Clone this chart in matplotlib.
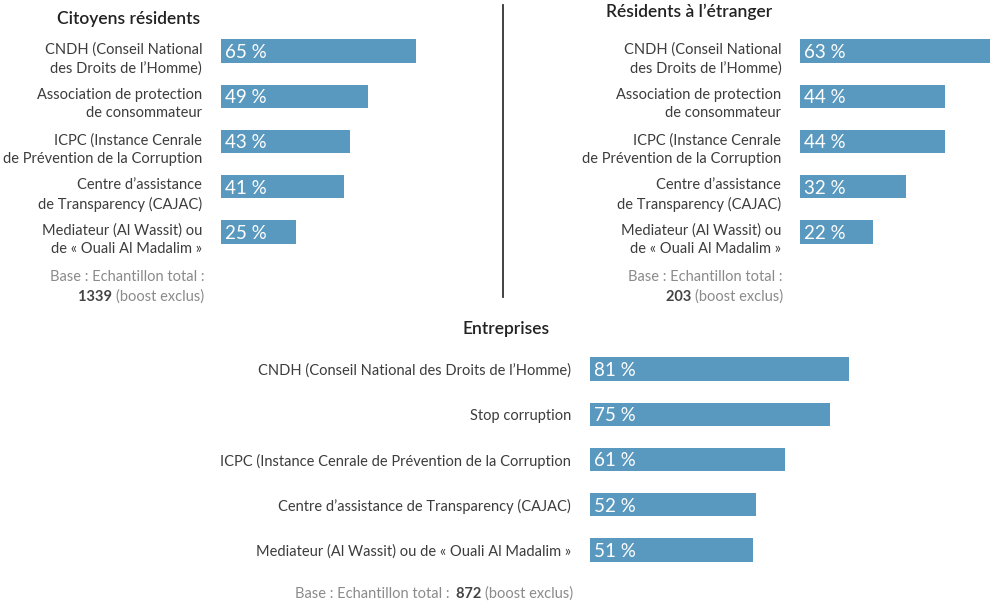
import numpy as np
import matplotlib
matplotlib.use("Agg")
import matplotlib.pyplot as plt

plt.rcParams['font.family'] = ['Lato', 'DejaVu Sans']

# data
res_labels = ["CNDH (Conseil National\ndes Droits de l\u2019Homme)",
              "Association de protection\nde consommateur",
              "ICPC (Instance Cenrale\nde Pr\u00e9vention de la Corruption",
              "Centre d\u2019assistance\nde Transparency (CAJAC)",
              "Mediateur (Al Wassit) ou\nde \u00ab Ouali Al Madalim \u00bb"]
res_values = [65, 49, 43, 41, 25]

etr_labels = res_labels
etr_values = [63, 44, 44, 32, 22]

ent_labels = ["CNDH (Conseil National des Droits de l\u2019Homme)",
              "Stop corruption",
              "ICPC (Instance Cenrale de Pr\u00e9vention de la Corruption",
              "Centre d\u2019assistance de Transparency (CAJAC)",
              "Mediateur (Al Wassit) ou de \u00ab Ouali Al Madalim \u00bb"]
ent_values = [81, 75, 61, 52, 51]

titles = ["Citoyens r\u00e9sidents", "R\u00e9sidents \u00e0 l\u2019\u00e9tranger", "Entreprises"]
bases = ["1339", "203", "872"]

BAR = '#5a99bf'
TXT = '#3c3c3c'
GREY = '#8a8a8a'
W, H = 990, 602

fig = plt.figure(figsize=(9.9, 6.02), dpi=100)


def px_axes(x0, top, width, height):
    return fig.add_axes([x0 / W, 1 - (top + height) / H, width / W, height / H])


def panel(ax, labels, values, label_shift):
    y = np.arange(len(values))
    ax.barh(y, values, height=0.51, color=BAR)
    ax.set_xlim(0, 100)
    ax.set_ylim(len(values) - 0.5, -0.5)
    for i, v in enumerate(values):
        ax.text(1.3, i + 0.03, f"{v} %", color='white', fontsize=13.5,
                va='center', ha='left')
    ax.set_yticks(y + label_shift)
    ax.set_yticklabels(labels, fontsize=10.5, color=TXT, linespacing=1.35)
    ax.tick_params(axis='y', length=0, pad=13.5)
    ax.set_xticks([])
    for s in ax.spines.values():
        s.set_visible(False)
    ax.patch.set_alpha(0)


# top left (3.0 px per %)
ax1 = px_axes(221, 28.4, 300, 226.2)
panel(ax1, res_labels, res_values, 0.1)
# top right (3.3 px per %)
ax2 = px_axes(800, 28.4, 330, 226.2)
panel(ax2, etr_labels, etr_values, 0.1)
# bottom (3.2 px per %)
ax3 = px_axes(590, 346.4, 320, 226.2)
panel(ax3, ent_labels, ent_values, 0.0)

# titles
fig.text(200 / W, 1 - 19 / H, titles[0], fontsize=12.5, fontweight='semibold',
         color='#222222', ha='right', va='center')
fig.text(689 / W, 1 - 12 / H, titles[1], fontsize=12.5, fontweight='semibold',
         color='#222222', ha='center', va='center')
fig.text(506 / W, 1 - 329 / H, titles[2], fontsize=12.5, fontweight='semibold',
         color='#222222', ha='center', va='center')

# divider
fig.add_artist(plt.Line2D([503 / W, 503 / W], [1 - 5 / H, 1 - 297 / H],
                          color='#333333', lw=1.3))


def two_line_base(ax, xr, y1, y2, num):
    fig.text(xr / W, 1 - y1 / H, "Base : Echantillon total :", fontsize=10.5,
             color=GREY, ha='right', va='center')
    t = fig.text(xr / W, 1 - y2 / H, "(boost exclus)", fontsize=10.5,
                 color=GREY, ha='right', va='center')
    ax.annotate(num + " ", xy=(0, 0.5), xycoords=t, fontsize=10.5,
                fontweight='bold', color='#444444', ha='right', va='center',
                annotation_clip=False)


two_line_base(ax1, 204, 277, 297, bases[0])
two_line_base(ax2, 783, 277, 297, bases[1])

t = fig.text(573 / W, 1 - 594 / H, "(boost exclus)", fontsize=10.5,
             color=GREY, ha='right', va='center')
t2 = ax3.annotate("  " + bases[2] + " ", xy=(0, 0.5), xycoords=t, fontsize=10.5,
                  fontweight='bold', color='#444444', ha='right', va='center',
                  annotation_clip=False)
ax3.annotate("Base : Echantillon total :", xy=(0, 0.5), xycoords=t2,
             fontsize=10.5, color=GREY, ha='right', va='center',
             annotation_clip=False)

fig.savefig("out.png", dpi=100)
